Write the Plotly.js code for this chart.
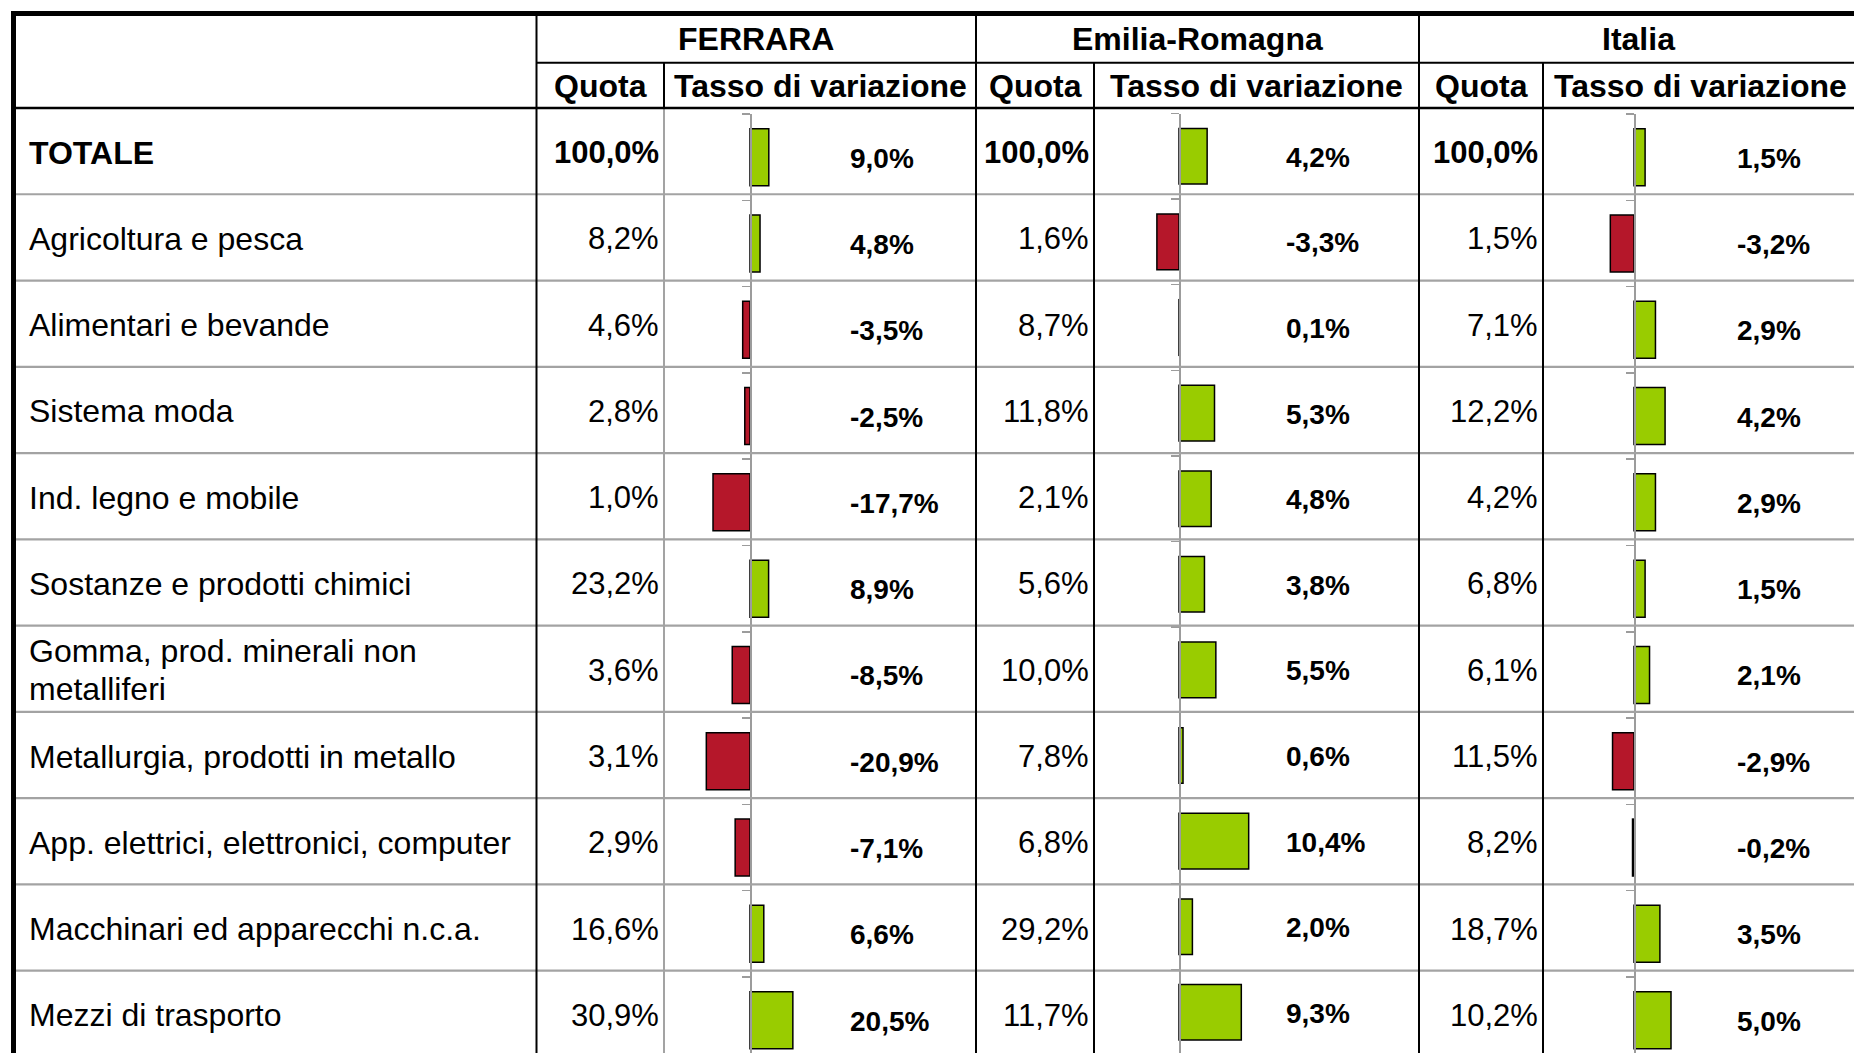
<!DOCTYPE html>
<html><head><meta charset="utf-8">
<script src="https://cdn.plot.ly/plotly-3.0.1.min.js"></script>
<style>html,body{margin:0;padding:0;background:#fff;overflow:hidden}</style>
</head><body><div id="chart" style="width:1854px;height:1053px"></div>
<script>
// ---------- DATA ----------
const categories = ["TOTALE", "Agricoltura e pesca", "Alimentari e bevande", "Sistema moda",
  "Ind. legno e mobile", "Sostanze e prodotti chimici", "Gomma, prod. minerali non<br>metalliferi",
  "Metallurgia, prodotti in metallo", "App. elettrici, elettronici, computer",
  "Macchinari ed apparecchi n.c.a.", "Mezzi di trasporto"];
const areas = ["FERRARA", "Emilia-Romagna", "Italia"];
const subHeaders = ["Quota", "Tasso di variazione"];
const quotaFerrara = [100.0, 8.2, 4.6, 2.8, 1.0, 23.2, 3.6, 3.1, 2.9, 16.6, 30.9];
const tassoFerrara = [9.0, 4.8, -3.5, -2.5, -17.7, 8.9, -8.5, -20.9, -7.1, 6.6, 20.5];
const quotaEmilia = [100.0, 1.6, 8.7, 11.8, 2.1, 5.6, 10.0, 7.8, 6.8, 29.2, 11.7];
const tassoEmilia = [4.2, -3.3, 0.1, 5.3, 4.8, 3.8, 5.5, 0.6, 10.4, 2.0, 9.3];
const quotaItalia = [100.0, 1.5, 7.1, 12.2, 4.2, 6.8, 6.1, 11.5, 8.2, 18.7, 10.2];
const tassoItalia = [1.5, -3.2, 2.9, 4.2, 2.9, 1.5, 2.1, -2.9, -0.2, 3.5, 5.0];

// ---------- LAYOUT / STYLE ----------
const W = 1854, H = 1053;
const FONT = 'Liberation Sans, Arial, sans-serif';
const GREEN = '#99CC00', RED = '#B5172A', BLACK = '#000000', GRAY = '#a3a3a3', AXIS = '#9c9c9c';
const C = [13.5, 536.5, 664, 976, 1094, 1419, 1543, 1858]; // column edges (px)
const TOP = 13.5, H1 = 62.8, HB = 108, ROWH = 86.27;
const TEXTSHIFT = -1.5;
const px = p => p / W;
const py = p => 1 - p / H;
const fmt = v => v.toFixed(1).replace('.', ',') + '%';
const fontReg = (s) => ({family: FONT, size: s, color: '#000'});

const quotas = [quotaFerrara, quotaEmilia, quotaItalia];
const tassi = [tassoFerrara, tassoEmilia, tassoItalia];
const specs = [
  {qL: C[1], qR: C[2], tL: C[2], tR: C[3], zero: 750, ppu: 2.09, bandTop: 114, bandH: 86.3, bar: 0.66, labelX: 850},
  {qL: C[3], qR: C[4], tL: C[4], tR: C[5], zero: 1179, ppu: 6.7, bandTop: 113.5, bandH: 85.6, bar: 0.65, labelX: 1286},
  {qL: C[5], qR: C[6], tL: C[6], tR: C[7], zero: 1634, ppu: 7.4, bandTop: 114, bandH: 86.3, bar: 0.66, labelX: 1736.5}
];

const layout = {
  width: W, height: H,
  margin: {l: 0, r: 0, t: 0, b: 0, pad: 0},
  paper_bgcolor: '#ffffff', plot_bgcolor: 'rgba(0,0,0,0)',
  showlegend: false, font: {family: FONT, color: '#000'},
  shapes: [], annotations: []
};
const data = [];

specs.forEach((s, i) => {
  const sfx = i === 0 ? '' : String(i + 1);
  const right = Math.min(s.tR, W);
  layout['xaxis' + sfx] = {
    domain: [px(s.tL), px(right)],
    range: [(s.tL - s.zero) / s.ppu, (right - s.zero) / s.ppu],
    visible: false, fixedrange: true, anchor: 'y' + sfx
  };
  layout['yaxis' + sfx] = {
    type: 'category', categoryorder: 'array', categoryarray: categories,
    domain: [0, py(s.bandTop)],
    range: [(H - s.bandTop) / s.bandH - 0.5, -0.5],
    anchor: 'free', position: px(s.zero),
    showline: true, linecolor: AXIS, linewidth: 1.5,
    ticks: 'outside', tickson: 'boundaries', ticklen: 8, tickwidth: 1.5, tickcolor: AXIS,
    showticklabels: false, showgrid: false, zeroline: false, fixedrange: true
  };
  const vals = tassi[i];
  data.push({
    type: 'bar', orientation: 'h', x: vals, y: categories,
    xaxis: 'x' + sfx, yaxis: 'y' + sfx, width: s.bar,
    marker: {color: vals.map(v => v >= 0 ? GREEN : RED), line: {color: BLACK, width: 1.5}},
    hoverinfo: 'skip', cliponaxis: false
  });
  // bar value labels
  vals.forEach((v, k) => {
    layout.annotations.push({
      xref: 'paper', x: px(s.labelX), xanchor: 'left',
      yref: 'y' + sfx, y: categories[k], yanchor: 'middle', yshift: -1,
      text: '<b>' + fmt(v) + '</b>', showarrow: false, font: fontReg(28),
      borderpad: 0, borderwidth: 0
    });
  });
  // quota values
  quotas[i].forEach((q, k) => {
    const yc = HB + ROWH * (k + 0.5);
    layout.annotations.push({
      xref: 'paper', x: px(s.qR - 5.5), xanchor: 'right',
      yref: 'paper', y: py(yc), yanchor: 'middle', yshift: TEXTSHIFT,
      text: k === 0 ? '<b>' + fmt(q) + '</b>' : fmt(q), showarrow: false, font: fontReg(31),
      borderpad: 0, borderwidth: 0
    });
  });
  // headers
  layout.annotations.push({
    xref: 'paper', x: px((s.qL + s.tR) / 2), xanchor: 'center',
    yref: 'paper', y: py((TOP + H1) / 2), yanchor: 'middle', yshift: -1,
    text: '<b>' + areas[i] + '</b>', showarrow: false, font: fontReg(32), borderpad: 0, borderwidth: 0
  });
  [[s.qL, s.qR], [s.tL, s.tR]].forEach((c, j) => {
    layout.annotations.push({
      xref: 'paper', x: px((c[0] + c[1]) / 2), xanchor: 'center',
      yref: 'paper', y: py((H1 + HB) / 2), yanchor: 'middle', yshift: -1,
      text: '<b>' + subHeaders[j] + '</b>', showarrow: false, font: fontReg(32), borderpad: 0, borderwidth: 0
    });
  });
});

// row labels
const LINEGAP = 37.8;
categories.forEach((lab, k) => {
  const lines = lab.split('<br>');
  const yc = HB + ROWH * (k + 0.5);
  lines.forEach((ln, j) => {
    const off = (j - (lines.length - 1) / 2) * LINEGAP;
    layout.annotations.push({
      xref: 'paper', x: px(29), xanchor: 'left',
      yref: 'paper', y: py(yc + off), yanchor: 'middle', yshift: TEXTSHIFT,
      text: k === 0 ? '<b>' + ln + '</b>' : ln, showarrow: false, font: fontReg(32),
      borderpad: 0, borderwidth: 0
    });
  });
});

// table grid
function line(x0, y0, x1, y1, color, width) {
  layout.shapes.push({type: 'line', xref: 'paper', yref: 'paper',
    x0: px(x0), x1: px(x1), y0: py(y0), y1: py(y1), line: {color: color, width: width}});
}
for (let k = 1; HB + ROWH * k < H + 5; k++) {
  line(C[0], HB + ROWH * k, W + 10, HB + ROWH * k, GRAY, 2.2);
}
line(C[2], HB, C[2], H + 10, GRAY, 2);
line(C[2], H1, C[2], HB, BLACK, 2);
line(C[4], H1, C[4], H + 10, BLACK, 2);
line(C[6], H1, C[6], H + 10, BLACK, 2);
line(C[1], TOP, C[1], H + 10, BLACK, 2);
line(C[3], TOP, C[3], H + 10, BLACK, 2);
line(C[5], TOP, C[5], H + 10, BLACK, 2);
line(C[1], H1, W + 10, H1, BLACK, 2);
line(C[0], HB, W + 10, HB, BLACK, 2.5);
line(C[0] - 2.5, TOP, W + 10, TOP, BLACK, 5);
line(C[0], TOP - 2.5, C[0], H + 10, BLACK, 5);

Plotly.newPlot('chart', data, layout, {staticPlot: true, displayModeBar: false});
</script>
</body></html>
